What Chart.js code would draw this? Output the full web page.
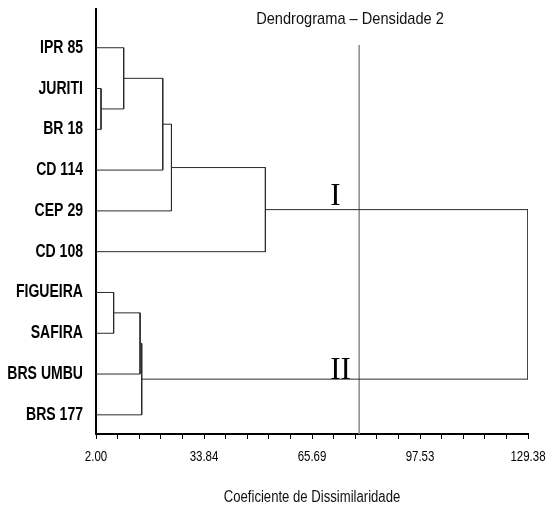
<!DOCTYPE html>
<html>
<head>
<meta charset="utf-8">
<script src="https://cdn.jsdelivr.net/npm/chart.js@4"></script>
<style>
  html, body { margin: 0; padding: 0; background: #fff; }
  canvas { display: block; }
</style>
</head>
<body>
<canvas id="c" width="555" height="508"></canvas>
<script>
// ---- data ----
const leaves = ["IPR 85", "JURITI", "BR 18", "CD 114", "CEP 29", "CD 108", "FIGUEIRA", "SAFIRA", "BRS UMBU", "BRS 177"];
// linkage: node ids 0..9 are leaves, 10.. are merges (in order)
const mergeA = [1, 0, 11, 12, 13, 6, 15, 16, 14];
const mergeB = [2, 10, 3, 4, 5, 7, 8, 9, 17];
const mergeHeight = [3.48, 10.16, 21.68, 24.25, 51.95, 7.20, 15.00, 15.48, 129.38];
const xTickLabels = ["2.00", "33.84", "65.69", "97.53", "129.38"];
const xMin = 2.00, xMax = 129.38;
const cutValue = 79.6;
const clusterNames = ["I", "II"];
const clusterNodes = [14, 17];
const chartTitle = "Dendrograma – Densidade 2";
const xAxisTitle = "Coeficiente de Dissimilaridade";

// ---- derived structure ----
const nodeY = leaves.map((_, i) => i);
const nodeH = leaves.map(() => xMin);
mergeA.forEach((a, k) => {
  const b = mergeB[k];
  nodeY.push((nodeY[a] + nodeY[b]) / 2);
  nodeH.push(mergeHeight[k]);
});

const lineColor = '#2a2a2a';
const datasets = mergeA.map((a, k) => {
  const b = mergeB[k], h = mergeHeight[k];
  return {
    data: [
      {x: nodeH[a], y: nodeY[a]},
      {x: h, y: nodeY[a]},
      {x: h, y: nodeY[b]},
      {x: nodeH[b], y: nodeY[b]}
    ],
    showLine: true, borderColor: lineColor, borderWidth: 1,
    pointRadius: 0, pointHoverRadius: 0, fill: false, tension: 0
  };
});
const yMinV = -0.95, yMaxV = 9.47;
datasets.push({
  data: [{x: cutValue, y: -0.07}, {x: cutValue, y: yMaxV}],
  showLine: true, borderColor: '#8a8a8a', borderWidth: 1.5,
  pointRadius: 0, pointHoverRadius: 0, fill: false
});

// x ticks: major every 5 minor
const nMinor = 20;
const xTickValues = [];
for (let k = 0; k <= nMinor; k++) xTickValues.push(xMin + k * (xMax - xMin) / nMinor);

const sans = "'Liberation Sans Narrow','Arial Narrow','Liberation Sans',Arial,sans-serif";

// render a scale's tick labels horizontally condensed (narrow-font look), keeping positions
function condenseLabels(scale, f) {
  if (scale._condensed) return;
  scale._condensed = true;
  const origGet = scale.getLabelItems;
  const origDraw = scale.drawLabels;
  scale._computeLabelArea = () => undefined;
  scale.getLabelItems = function (ca) {
    const items = origGet.call(this, ca);
    return items.map(it => ({
      ...it,
      options: { ...it.options, translation: [it.options.translation[0] / f, it.options.translation[1]] }
    }));
  };
  scale.drawLabels = function (ca) {
    const ctx = this.ctx;
    ctx.save();
    ctx.scale(f, 1);
    origDraw.call(this, ca);
    ctx.restore();
  };
}
function condenseTitle(scale, f) {
  if (scale._condensedTitle) return;
  scale._condensedTitle = true;
  const orig = scale.drawTitle;
  scale.drawTitle = function () {
    const ctx = this.ctx, cx = (this.left + this.right) / 2;
    ctx.save();
    ctx.translate(cx, 0);
    ctx.scale(f, 1);
    ctx.translate(-cx, 0);
    orig.call(this);
    ctx.restore();
  };
}

const textPlugin = {
  id: 'texts',
  afterDraw(chart) {
    const ctx = chart.ctx;
    const xs = chart.scales.x, ys = chart.scales.y;
    ctx.save();
    ctx.fillStyle = '#111';
    ctx.font = "17px " + sans;
    ctx.textAlign = 'center';
    ctx.textBaseline = 'middle';
    ctx.translate(350, 19);
    ctx.scale(0.86, 1);
    ctx.fillText(chartTitle, 0, 0);
    ctx.restore();

    ctx.save();
    ctx.font = "31px 'Liberation Serif','Times New Roman',serif";
    ctx.fillStyle = '#000';
    ctx.textAlign = 'left';
    ctx.textBaseline = 'alphabetic';
    const offs = [5, 0];
    clusterNames.forEach((name, i) => {
      const px = xs.getPixelForValue(cutValue) - 29;
      const py = ys.getPixelForValue(nodeY[clusterNodes[i]]) - offs[i];
      ctx.fillText(name, px, py);
    });
    ctx.restore();
  }
};

new Chart(document.getElementById('c'), {
  type: 'scatter',
  data: { datasets },
  plugins: [textPlugin],
  options: {
    responsive: false,
    animation: false,
    events: [],
    layout: { padding: { top: 9, right: 27, left: 0, bottom: 0 } },
    plugins: { legend: { display: false }, tooltip: { enabled: false }, title: { display: false } },
    scales: {
      x: {
        type: 'linear', min: xMin, max: xMax,
        afterBuildTicks: (s) => { s.ticks = xTickValues.map(v => ({value: v})); },
        afterFit: (s) => {
          s.height = 74; s.paddingLeft = 0; s.paddingRight = 0;
          condenseTitle(s, 0.82);
          condenseLabels(s, 0.82);
        },
        grid: { display: true, drawOnChartArea: false, drawTicks: true, tickLength: 5, color: '#000', lineWidth: 1 },
        border: { display: true, color: '#000', width: 2 },
        ticks: {
          autoSkip: false, maxRotation: 0, minRotation: 0, padding: 10, color: '#000',
          font: { family: sans, size: 14 },
          callback: (v, i) => (i % 5 === 0 ? xTickLabels[i / 5] : '')
        },
        title: { display: true, text: xAxisTitle, color: '#111', font: { family: sans, size: 16 }, padding: { top: 0, bottom: 1 } }
      },
      y: {
        type: 'linear', min: yMinV, max: yMaxV, reverse: true,
        afterBuildTicks: (s) => { s.ticks = leaves.map((_, i) => ({value: i})); },
        afterFit: (s) => {
          s.width = 96; s.paddingTop = 0; s.paddingBottom = 0;
          condenseLabels(s, 0.78);
        },
        grid: { display: false, drawTicks: false },
        border: { display: true, color: '#000', width: 2 },
        ticks: {
          autoSkip: false, padding: 13, color: '#000',
          font: { family: sans, size: 18, weight: 'bold' },
          callback: (v) => leaves[v]
        }
      }
    }
  }
});
</script>
</body>
</html>
